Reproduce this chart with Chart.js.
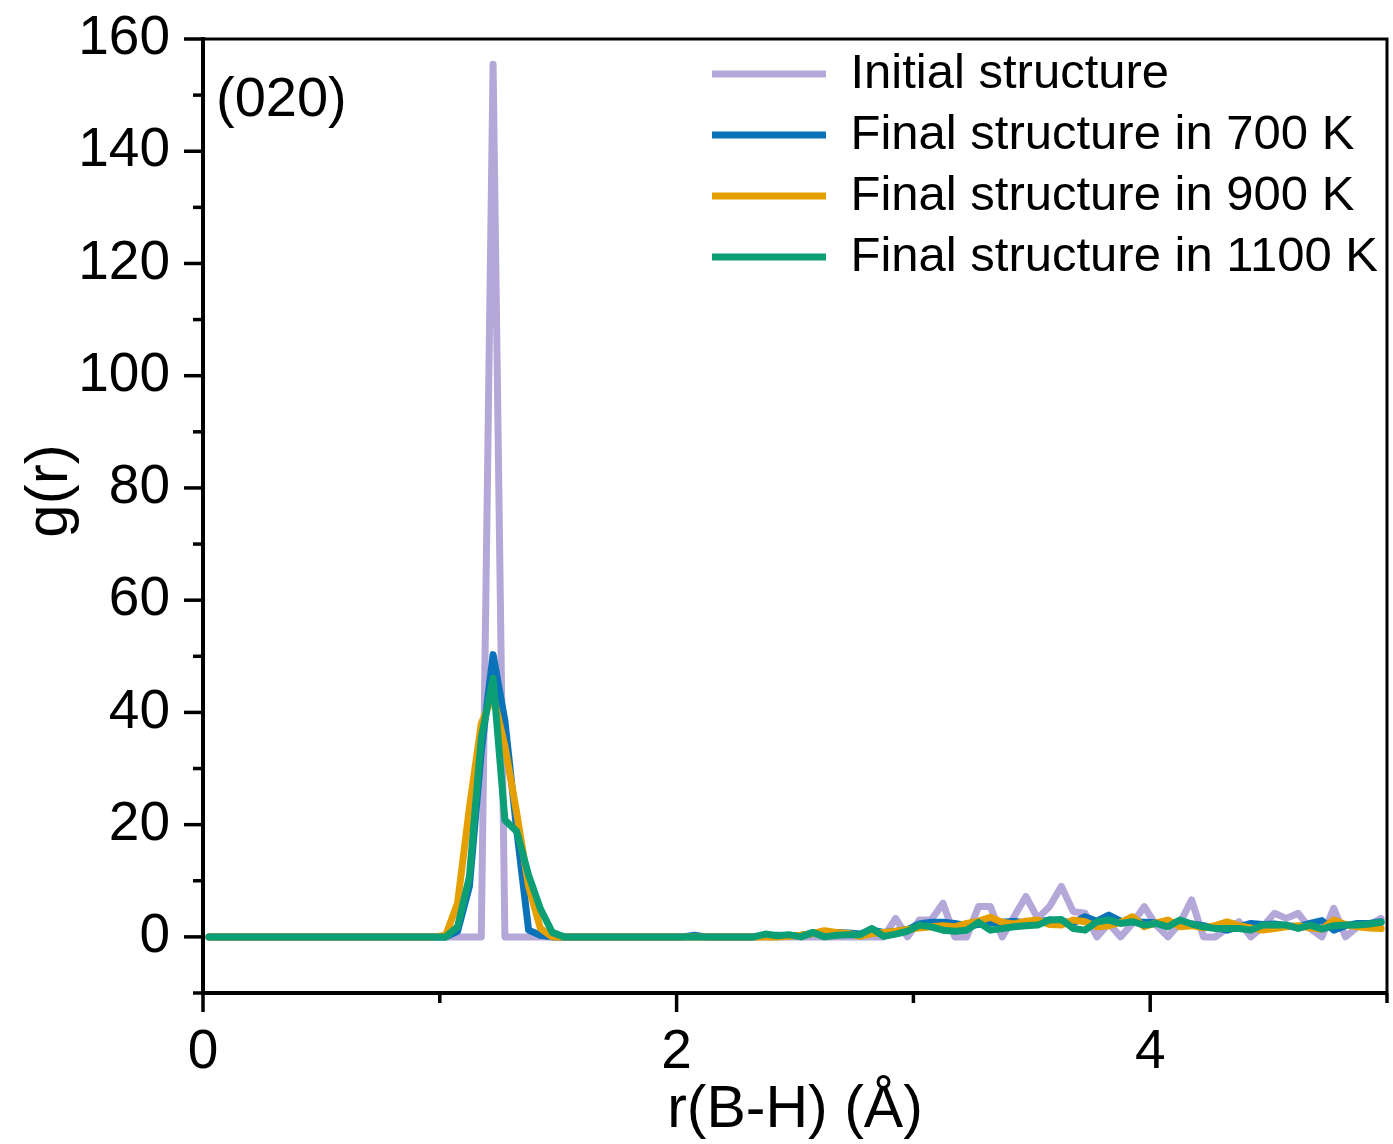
<!DOCTYPE html>
<html>
<head>
<meta charset="utf-8">
<script src="https://cdn.jsdelivr.net/npm/chart.js@4.4.1/dist/chart.umd.min.js"></script>
<style>
  html, body { margin: 0; padding: 0; background: #fff; }
  #wrap { width: 1393px; height: 1144px; position: relative; }
</style>
</head>
<body>
<div id="wrap"><canvas id="rdf"></canvas></div>
<script>
// r grid: bin centres, 0.05 A wide
const rStart = 0.025, rStep = 0.05, nBins = 100;
const rValues = Array.from({length: nBins}, (_, i) => +(rStart + rStep * i).toFixed(3));

const seriesNames = ['Initial structure', 'Final structure in 700 K', 'Final structure in 900 K', 'Final structure in 1100 K'];
const seriesColors = ['#b4a8d8', '#0a72b8', '#e69f00', '#0c9e74'];

const gInitial = [
  0, 0, 0, 0, 0, 0, 0, 0, 0, 0,
  0, 0, 0, 0, 0, 0, 0, 0, 0, 0,
  0, 0, 0, 0, 155.5, 0, 0, 0, 0, 0,
  0, 0, 0, 0, 0, 0, 0, 0, 0, 0,
  0, 0, 0, 0, 0, 0, 0, 0, 0, 0,
  0, 0, 0, 0, 0, 0, 0, 0, 3.3, 0,
  3.0, 3.0, 6.0, 0, 0, 5.4, 5.4, 0, 3.6, 7.2,
  3.3, 5.4, 9.0, 4.5, 4.2, 0, 2.4, 0, 2.4, 5.4,
  2.1, 0, 2.4, 6.6, 0, 0, 1.5, 2.7, 0, 1.8,
  4.2, 3.3, 4.2, 1.5, 0, 5.1, 0, 1.8, 2.1, 3.3
];
const g700 = [
  0, 0, 0, 0, 0, 0, 0, 0, 0, 0,
  0, 0, 0, 0, 0, 0, 0, 0, 0, 0,
  0, 1.0, 9, 33, 50.3, 38.5, 19, 1.2, 0.3, 0,
  0, 0, 0, 0, 0, 0, 0, 0, 0, 0,
  0, 0.3, 0, 0, 0, 0, 0, 0.2, 0.3, 0.2,
  0.3, 0.6, 0.8, 0.8, 0.7, 0.5, 1.2, 0.8, 1.0, 1.3,
  2.3, 2.6, 2.6, 2.4, 2.0, 2.2, 2.5, 2.6, 2.8, 2.5,
  2.6, 3.0, 2.8, 2.5, 3.6, 2.8, 3.9, 2.8, 2.7, 2.6,
  2.5, 2.4, 2.6, 2.3, 2.0, 1.6, 1.2, 1.8, 2.4, 2.2,
  2.3, 2.0, 1.8, 2.4, 2.9, 1.2, 2.0, 2.4, 2.4, 2.7
];
const g900 = [
  0, 0, 0, 0, 0, 0, 0, 0, 0, 0,
  0, 0, 0, 0, 0, 0, 0, 0, 0, 0,
  0.3, 6, 23, 38, 43, 34, 22, 9, 1.5, 0,
  0, 0, 0, 0, 0, 0, 0, 0, 0, 0,
  0, 0, 0, 0, 0, 0, 0, 0, 0, 0.1,
  0.3, 0.6, 1.1, 0.8, 0.6, 0.1, 0.6, 0.8, 1.0, 1.3,
  1.6, 1.8, 2.0, 1.8, 2.4, 2.8, 3.5, 2.6, 2.3, 2.8,
  3.0, 2.2, 2.1, 3.0, 2.7, 1.8, 2.0, 2.6, 3.6, 1.8,
  2.5, 3.0, 1.8, 2.0, 1.6, 2.0, 2.7, 2.0, 1.6, 1.2,
  1.5, 1.8, 2.0, 1.6, 1.4, 3.0, 2.2, 1.8, 1.6, 1.5
];
const g1100 = [
  0, 0, 0, 0, 0, 0, 0, 0, 0, 0,
  0, 0, 0, 0, 0, 0, 0, 0, 0, 0,
  0, 1.8, 10.7, 35.4, 46.1, 20.8, 18.8, 11, 5, 0.8,
  0, 0, 0, 0, 0, 0, 0, 0, 0, 0,
  0, 0, 0, 0, 0, 0, 0, 0.5, 0.2, 0.4,
  0, 0.8, 0, 0.3, 0.4, 0.4, 1.5, 0.1, 0.5, 1.0,
  2.1, 1.8, 1.2, 1.0, 1.2, 2.6, 1.2, 1.5, 1.8, 2.0,
  2.1, 3.0, 3.1, 1.5, 1.2, 2.7, 3.0, 2.4, 2.7, 2.1,
  2.4, 1.8, 3.0, 2.3, 1.8, 1.5, 1.5, 1.5, 1.2, 2.1,
  2.1, 2.1, 1.5, 2.1, 1.4, 2.0, 2.1, 2.1, 2.3, 2.6
];

const xTickValues = [0, 1, 2, 3, 4, 5];
const yTickValues = [-10, 0, 10, 20, 30, 40, 50, 60, 70, 80, 90, 100, 110, 120, 130, 140, 150, 160];
const panelLabel = '(020)';

const FONT = '"Liberation Sans", Arial, Helvetica, sans-serif';

const allSeries = [gInitial, g700, g900, g1100];
const datasets = allSeries.map((vals, k) => ({
  label: seriesNames[k],
  data: vals.map((v, i) => ({x: rValues[i], y: v})),
  borderColor: seriesColors[k],
  backgroundColor: seriesColors[k],
  borderWidth: 7,
  borderCapStyle: 'round',
  borderJoinStyle: 'round',
  pointRadius: 0,
  tension: 0,
  order: 4 - k   // initial drawn first, 1100 K on top
}));

// outward major/minor ticks, top/right frame, panel label
const framePlugin = {
  id: 'frame',
  afterDraw(chart) {
    const {ctx, chartArea: a, scales: {x, y}} = chart;
    ctx.save();
    ctx.strokeStyle = '#000';
    ctx.lineCap = 'butt';
    ctx.lineWidth = 3;
    ctx.beginPath();
    ctx.moveTo(a.left, a.top);
    ctx.lineTo(a.right, a.top);
    ctx.lineTo(a.right, a.bottom);
    ctx.stroke();

    ctx.lineWidth = 3.5;
    xTickValues.forEach(v => {
      const px = x.getPixelForValue(v);
      const len = v % 2 === 0 ? 19 : 10;
      ctx.beginPath();
      ctx.moveTo(px, a.bottom);
      ctx.lineTo(px, a.bottom + len);
      ctx.stroke();
    });
    yTickValues.forEach(v => {
      const py = y.getPixelForValue(v);
      const len = v % 20 === 0 ? 19 : 10;
      ctx.beginPath();
      ctx.moveTo(a.left, py);
      ctx.lineTo(a.left - len, py);
      ctx.stroke();
    });

    ctx.fillStyle = '#000';
    ctx.font = '56px ' + FONT;
    ctx.textAlign = 'left';
    ctx.textBaseline = 'middle';
    ctx.fillText(panelLabel, a.left + 13, y.getPixelForValue(149));
    ctx.restore();
  }
};

// place the legend box in the upper right of the plot
const legendPlace = {
  id: 'legendPlace',
  afterLayout(chart) {
    const lg = chart.legend;
    if (!lg) return;
    const w = lg.width, h = lg.height;
    lg.left = 700; lg.top = 37.5;
    lg.right = lg.left + w; lg.bottom = lg.top + h;
  }
};

new Chart(document.getElementById('rdf'), {
  type: 'line',
  data: {datasets},
  plugins: [framePlugin, legendPlace],
  options: {
    responsive: true,
    maintainAspectRatio: false,
    animation: false,
    layout: {padding: {left: 0, right: 6, top: 39, bottom: 0}},
    plugins: {
      tooltip: {enabled: false},
      legend: {
        position: 'chartArea',
        align: 'start',
        labels: {
          usePointStyle: true,
          pointStyle: 'line',
          pointStyleWidth: 114,
          padding: 12,
          color: '#000',
          font: {family: FONT, size: 49},
          sort: (a, b) => a.datasetIndex - b.datasetIndex
        }
      }
    },
    scales: {
      x: {
        type: 'linear',
        min: 0,
        max: 5,
        afterFit(s) { s.height = 151; s.paddingLeft = 0; s.paddingRight = 0; },
        ticks: {
          stepSize: 1,
          autoSkip: false,
          maxRotation: 0,
          padding: 27,
          color: '#000',
          font: {family: FONT, size: 55},
          callback: v => (v % 2 === 0 ? v : '')
        },
        grid: {display: true, drawOnChartArea: false, drawTicks: false},
        border: {display: true, color: '#000', width: 4},
        title: {
          display: true,
          text: 'r(B-H) (Å)',
          color: '#000',
          font: {family: FONT, size: 59},
          padding: {top: 0, bottom: -2}
        }
      },
      y: {
        min: -10,
        max: 160,
        afterFit(s) { s.width = 203; s.paddingTop = 0; s.paddingBottom = 0; },
        ticks: {
          stepSize: 10,
          autoSkip: false,
          padding: 33,
          color: '#000',
          font: {family: FONT, size: 55},
          callback: v => (v % 20 === 0 ? v : '')
        },
        grid: {display: true, drawOnChartArea: false, drawTicks: false},
        border: {display: true, color: '#000', width: 4},
        title: {
          display: true,
          text: '   g(r)',
          color: '#000',
          font: {family: FONT, size: 60},
          padding: {top: 14, bottom: 0}
        }
      }
    }
  }
});
</script>
</body>
</html>
